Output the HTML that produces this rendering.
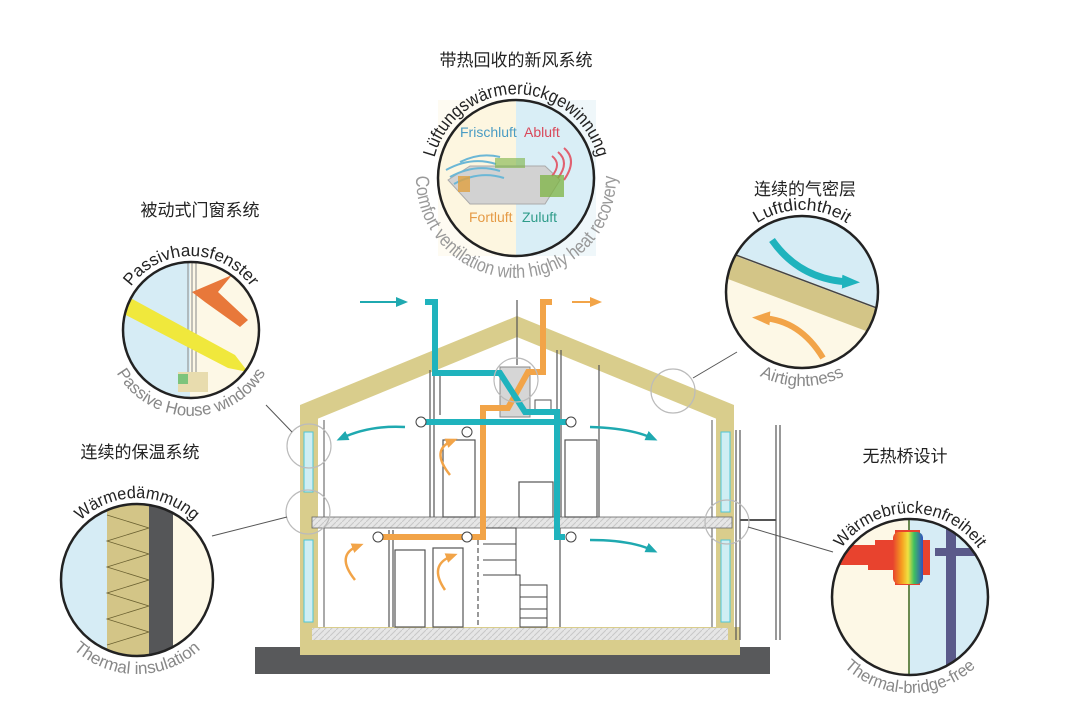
<!DOCTYPE html>
<html><head><meta charset="utf-8"><style>
html,body{margin:0;padding:0;background:#fff;}
svg{display:block;}
text{font-family:"Liberation Sans","Noto Sans CJK SC",sans-serif;}
.cn{font-size:17px;fill:#222;}
.de{font-size:17px;fill:#222;}
.en{font-size:17px;fill:#888;}
</style></head><body>
<svg width="1080" height="724" viewBox="0 0 1080 724" xmlns="http://www.w3.org/2000/svg">
<defs>
<marker id="at" markerUnits="userSpaceOnUse" markerWidth="12" markerHeight="12" refX="6" refY="6" orient="auto"><path d="M0,1 L12,6 L0,11 Z" fill="#1fa9b0"/></marker>
<marker id="ao" markerUnits="userSpaceOnUse" markerWidth="12" markerHeight="12" refX="6" refY="6" orient="auto"><path d="M0,1 L12,6 L0,11 Z" fill="#f2a448"/></marker>
<marker id="atb" markerUnits="userSpaceOnUse" markerWidth="18" markerHeight="18" refX="8" refY="9" orient="auto"><path d="M0,2 L18,9 L0,16 Z" fill="#1fb3bd"/></marker>
<marker id="aob" markerUnits="userSpaceOnUse" markerWidth="18" markerHeight="18" refX="8" refY="9" orient="auto"><path d="M0,2 L18,9 L0,16 Z" fill="#f2a448"/></marker>
<pattern id="hatch" width="6" height="6" patternUnits="userSpaceOnUse"><rect width="6" height="6" fill="#e6e6e6"/><path d="M0,6 L6,0" stroke="#c8c8c8" stroke-width="1"/></pattern>
<clipPath id="c1"><circle cx="516" cy="178" r="78"/></clipPath>
<clipPath id="c2"><circle cx="191" cy="330" r="68"/></clipPath>
<clipPath id="c3"><circle cx="137" cy="580" r="76"/></clipPath>
<clipPath id="c4"><circle cx="802" cy="292" r="76"/></clipPath>
<clipPath id="c5"><circle cx="910" cy="597" r="78"/></clipPath>
<path id="p1" d="M434.9,156.3 A84,84 0 0 1 597.1,156.3"/>
<path id="p1b" d="M422.0,143.8 A100,100 0 1 0 610.0,143.8"/>
<path id="p2" d="M117,330 A74,74 0 0 1 265,330"/>
<path id="p2b" d="M106.3,315 A86,86 0 1 0 275.7,315"/>
<path id="p3" d="M55,580 A82,82 0 0 1 219,580"/>
<path id="p3b" d="M43,580 A94,94 0 0 0 231,580"/>
<path id="p4" d="M720,292 A82,82 0 0 1 884,292"/>
<path id="p4b" d="M708,292 A94,94 0 0 0 896,292"/>
<path id="p5" d="M826,597 A84,84 0 0 1 994,597"/>
<path id="p5b" d="M814,597 A96,96 0 0 0 1006,597"/>
<linearGradient id="rb" x1="0" x2="1"><stop offset="0" stop-color="#e8432e"/><stop offset="0.3" stop-color="#f6a020"/><stop offset="0.5" stop-color="#f0e040"/><stop offset="0.7" stop-color="#40c060"/><stop offset="1" stop-color="#3050c0"/></linearGradient>
</defs>

<rect x="255" y="647" width="515" height="27" fill="#58595b"/>
<rect x="300" y="627" width="440" height="28" fill="#d9cd8c"/>
<rect x="312" y="628" width="416" height="12" fill="url(#hatch)"/>
<path d="M300,405 L517,316 L734,405 L734,426 L517,337 L300,426 Z" fill="#d9cd8c"/>
<rect x="300" y="415" width="18" height="212" fill="#d9cd8c"/>
<rect x="716" y="415" width="18" height="212" fill="#d9cd8c"/>
<rect x="304" y="432" width="9" height="60" fill="#cfeef3" stroke="#4fc6d6"/>
<rect x="304" y="540" width="9" height="82" fill="#cfeef3" stroke="#4fc6d6"/>
<rect x="721" y="432" width="9" height="80" fill="#cfeef3" stroke="#4fc6d6"/>
<rect x="721" y="540" width="9" height="82" fill="#cfeef3" stroke="#4fc6d6"/>
<line x1="324" y1="420" x2="324" y2="627" stroke="#555" stroke-width="1"/>
<line x1="712" y1="420" x2="712" y2="627" stroke="#555" stroke-width="1"/>
<rect x="312" y="517" width="420" height="11" fill="url(#hatch)" stroke="#666" stroke-width="0.8"/>
<g fill="none" stroke="#555" stroke-width="1.2">
<line x1="430" y1="370" x2="430" y2="517"/><line x1="434" y1="370" x2="434" y2="517"/>
<line x1="557" y1="350" x2="557" y2="517"/><line x1="561" y1="350" x2="561" y2="517"/>
<line x1="599" y1="365" x2="599" y2="517"/>
<rect x="443" y="440" width="32" height="77"/>
<rect x="565" y="440" width="32" height="77"/>
<rect x="519" y="482" width="34" height="35"/>
<line x1="440" y1="375" x2="440" y2="415"/>
<line x1="389" y1="530" x2="389" y2="627"/><line x1="393" y1="530" x2="393" y2="627"/>
<rect x="395" y="550" width="30" height="77"/>
<rect x="433" y="548" width="30" height="79"/>
<line x1="478" y1="540" x2="478" y2="627" stroke-dasharray="5,3"/>
<line x1="560" y1="528" x2="560" y2="627"/>
<line x1="736" y1="430" x2="736" y2="640"/>
<line x1="740" y1="430" x2="740" y2="640"/>
<line x1="776" y1="425" x2="776" y2="640"/>
<line x1="780" y1="425" x2="780" y2="640"/>
<line x1="517" y1="300" x2="517" y2="365"/>
<line x1="740" y1="520" x2="776" y2="520" stroke-width="2"/>
</g>
<g fill="none" stroke="#444" stroke-width="1">
<path d="M483,528 L516,528 L516,575 L483,575"/>
<line x1="483" y1="544" x2="516" y2="544"/><line x1="483" y1="560" x2="516" y2="560"/>
<path d="M490,575 L520,575 L520,585 L547,585 L547,627 L520,627 L520,585"/>
<line x1="520" y1="597" x2="547" y2="597"/><line x1="520" y1="609" x2="547" y2="609"/><line x1="520" y1="618" x2="547" y2="618"/>
</g>
<rect x="500" y="367" width="30" height="50" fill="#d6d6d6" stroke="#888"/>
<rect x="535" y="400" width="16" height="12" fill="#fff" stroke="#555"/>
<path d="M552,302 L543,302 L543,372 L528,372 L508,408 L483,408 L483,537 L380,537" fill="none" stroke="#f2a448" stroke-width="6"/>
<line x1="572" y1="302" x2="596" y2="302" stroke="#f2a448" stroke-width="2" marker-end="url(#ao)"/>
<path d="M425,302 L435,302 L435,373 L500,373 L525,412 L557,412 L557,537 L565,537" fill="none" stroke="#1fb3bd" stroke-width="6"/>
<path d="M423,422 L570,422" stroke="#1fb3bd" stroke-width="6"/>
<line x1="360" y1="302" x2="402" y2="302" stroke="#1fa9b0" stroke-width="2" marker-end="url(#at)"/>
<g fill="none" stroke-width="2.5">
<path d="M405,427 Q370,425 342,438" stroke="#1fa9b0" marker-end="url(#at)"/>
<path d="M590,427 Q630,428 652,438" stroke="#1fa9b0" marker-end="url(#at)"/>
<path d="M590,540 Q630,540 652,550" stroke="#1fa9b0" marker-end="url(#at)"/>
<path d="M450,475 Q430,450 452,441" stroke="#f2a448" marker-end="url(#ao)"/>
<path d="M355,580 Q335,555 358,546" stroke="#f2a448" marker-end="url(#ao)"/>
<path d="M445,590 Q428,565 452,556" stroke="#f2a448" marker-end="url(#ao)"/>
</g>
<g fill="#fff" stroke="#444" stroke-width="1">
<circle cx="421" cy="422" r="5"/><circle cx="467" cy="432" r="5"/><circle cx="571" cy="422" r="5"/>
<circle cx="378" cy="537" r="5"/><circle cx="467" cy="537" r="5"/><circle cx="571" cy="537" r="5"/>
</g>
<g fill="none" stroke="#bbb" stroke-width="1.2">
<circle cx="516" cy="380" r="22"/><circle cx="309" cy="446" r="22"/><circle cx="308" cy="512" r="22"/>
<circle cx="673" cy="391" r="22"/><circle cx="727" cy="522" r="22"/>
</g>
<g stroke="#555" stroke-width="1">
<line x1="266" y1="405" x2="292" y2="432"/><line x1="212" y1="536" x2="287" y2="517"/>
<line x1="693" y1="378" x2="737" y2="352"/><line x1="748" y1="527" x2="833" y2="552"/>
</g>

<!-- TOP CIRCLE -->
<rect x="438" y="100" width="78" height="156" fill="#fefbf2"/>
<rect x="516" y="100" width="80" height="156" fill="#eff7fa"/>
<g clip-path="url(#c1)">
<rect x="430" y="90" width="86" height="180" fill="#fdf6e0"/>
<rect x="516" y="90" width="90" height="180" fill="#d9eef6"/>
<path d="M448,180 L470,166 L545,166 L560,180 L545,204 L470,204 Z" fill="#d2d2d2" stroke="#aaa"/>
<path d="M446,170 q25,-14 50,-6 M450,177 q25,-14 50,-6 M454,184 q25,-14 50,-6 M460,162 q20,-10 40,-5" stroke="#6bb7d6" stroke-width="2" fill="none"/>
<path d="M552,156 q10,8 0,20 M558,152 q12,10 0,26 M564,148 q14,12 0,32" stroke="#e06070" stroke-width="2" fill="none"/>
<rect x="540" y="175" width="24" height="22" fill="#7cb342" opacity="0.75"/>
<rect x="495" y="158" width="30" height="10" fill="#7cb342" opacity="0.6"/>
<rect x="458" y="176" width="12" height="16" fill="#e0a040" opacity="0.8"/>
</g>
<circle cx="516" cy="178" r="78" fill="none" stroke="#222" stroke-width="2.5"/>
<text x="460" y="137" style="font-size:14px;fill:#4a9cc4">Frischluft</text>
<text x="524" y="137" style="font-size:14px;fill:#d9485a">Abluft</text>
<text x="469" y="222" style="font-size:14px;fill:#e59a45">Fortluft</text>
<text x="522" y="222" style="font-size:14px;fill:#2f9c8a">Zuluft</text>
<text class="cn" x="516" y="66" text-anchor="middle">带热回收的新风系统</text>
<text class="de" style="font-size:18px"><textPath href="#p1" startOffset="50%" text-anchor="middle" textLength="222" lengthAdjust="spacingAndGlyphs">Lüftungswärmerückgewinnung</textPath></text>
<text class="en" style="font-size:19px;fill:#999"><textPath href="#p1b" startOffset="50%" text-anchor="middle" textLength="318" lengthAdjust="spacingAndGlyphs">Comfort ventilation with highly heat recovery</textPath></text>

<!-- WINDOW CIRCLE -->
<g clip-path="url(#c2)">
<rect x="120" y="260" width="70" height="140" fill="#d6ecf5"/>
<rect x="190" y="260" width="75" height="140" fill="#fdf8e6"/>
<g stroke="#888" stroke-width="1"><line x1="188" y1="260" x2="188" y2="380"/><line x1="192" y1="260" x2="192" y2="380"/><line x1="196" y1="260" x2="196" y2="380"/></g>
<path d="M125,295 L235,355 L248,372 L228,368 L120,312 Z" fill="#f0e83c"/>
<path d="M192,292 L232,275 L218,292 L248,320 L240,327 L205,302 Z" fill="#e8783a"/>
<rect x="178" y="372" width="30" height="20" fill="#e8dcae"/>
<rect x="178" y="374" width="10" height="10" fill="#7cc47c"/>
</g>
<circle cx="191" cy="330" r="68" fill="none" stroke="#222" stroke-width="2.5"/>
<text class="cn" x="200" y="216" text-anchor="middle">被动式门窗系统</text>
<text class="de"><textPath href="#p2" startOffset="50%" text-anchor="middle" textLength="140" lengthAdjust="spacingAndGlyphs">Passivhausfenster</textPath></text>
<text class="en"><textPath href="#p2b" startOffset="50%" text-anchor="middle" textLength="180" lengthAdjust="spacingAndGlyphs">Passive House windows</textPath></text>

<!-- INSULATION CIRCLE -->
<g clip-path="url(#c3)">
<rect x="55" y="500" width="52" height="160" fill="#d6ecf5"/>
<rect x="107" y="500" width="42" height="160" fill="#d3c587"/>
<path d="M107,515 L149,528 L107,541 L149,554 L107,567 L149,580 L107,593 L149,606 L107,619 L149,632 L107,645" fill="none" stroke="#6a6030" stroke-width="0.8"/>
<rect x="149" y="500" width="24" height="160" fill="#555658"/>
<rect x="173" y="500" width="50" height="160" fill="#fdf8e6"/>
</g>
<circle cx="137" cy="580" r="76" fill="none" stroke="#222" stroke-width="2.5"/>
<text class="cn" x="140" y="458" text-anchor="middle">连续的保温系统</text>
<text class="de"><textPath href="#p3" startOffset="50%" text-anchor="middle" textLength="125" lengthAdjust="spacingAndGlyphs">Wärmedämmung</textPath></text>
<text class="en"><textPath href="#p3b" startOffset="50%" text-anchor="middle" textLength="140" lengthAdjust="spacingAndGlyphs">Thermal insulation</textPath></text>

<!-- AIRTIGHT CIRCLE -->
<g clip-path="url(#c4)">
<rect x="720" y="210" width="170" height="170" fill="#fdf8e6"/>
<path d="M720,210 L890,210 L890,312 L720,248 Z" fill="#d6ecf5"/>
<path d="M720,250 L890,314 L890,340 L720,276 Z" fill="#d3c587"/>
<line x1="720" y1="249" x2="890" y2="313" stroke="#444" stroke-width="1.5"/>
<path d="M772,240 Q800,280 850,282" fill="none" stroke="#1fb3bd" stroke-width="7" marker-end="url(#atb)"/>
<path d="M823,358 Q800,320 762,318" fill="none" stroke="#f2a448" stroke-width="6" marker-end="url(#aob)"/>
</g>
<circle cx="802" cy="292" r="76" fill="none" stroke="#222" stroke-width="2.5"/>
<text class="cn" x="805" y="195" text-anchor="middle">连续的气密层</text>
<text class="de"><textPath href="#p4" startOffset="50%" text-anchor="middle" textLength="95" lengthAdjust="spacingAndGlyphs">Luftdichtheit</textPath></text>
<text class="en"><textPath href="#p4b" startOffset="50%" text-anchor="middle" textLength="88" lengthAdjust="spacingAndGlyphs">Airtightness</textPath></text>

<!-- THERMAL BRIDGE CIRCLE -->
<g clip-path="url(#c5)">
<rect x="830" y="515" width="80" height="165" fill="#fdf8e6"/>
<rect x="910" y="515" width="85" height="165" fill="#d6ecf5"/>
<line x1="909" y1="515" x2="909" y2="680" stroke="#6a8a50" stroke-width="2"/>
<rect x="946" y="515" width="10" height="165" fill="#5a5a8a"/>
<rect x="935" y="548" width="60" height="8" fill="#5a5a8a"/>
<path d="M830,545 L875,545 L875,540 L895,540 L895,530 L920,530 L920,540 L930,540 L930,575 L920,575 L920,585 L895,585 L895,570 L868,570 L868,565 L830,565 Z" fill="#e8432e"/>
<rect x="893" y="532" width="30" height="52" rx="6" fill="url(#rb)"/>
</g>
<circle cx="910" cy="597" r="78" fill="none" stroke="#222" stroke-width="2.5"/>
<text class="cn" x="905" y="462" text-anchor="middle">无热桥设计</text>
<text class="de"><textPath href="#p5" startOffset="50%" text-anchor="middle" textLength="160" lengthAdjust="spacingAndGlyphs">Wärmebrückenfreiheit</textPath></text>
<text class="en"><textPath href="#p5b" startOffset="50%" text-anchor="middle" textLength="145" lengthAdjust="spacingAndGlyphs">Thermal-bridge-free</textPath></text>
</svg>
</body></html>
